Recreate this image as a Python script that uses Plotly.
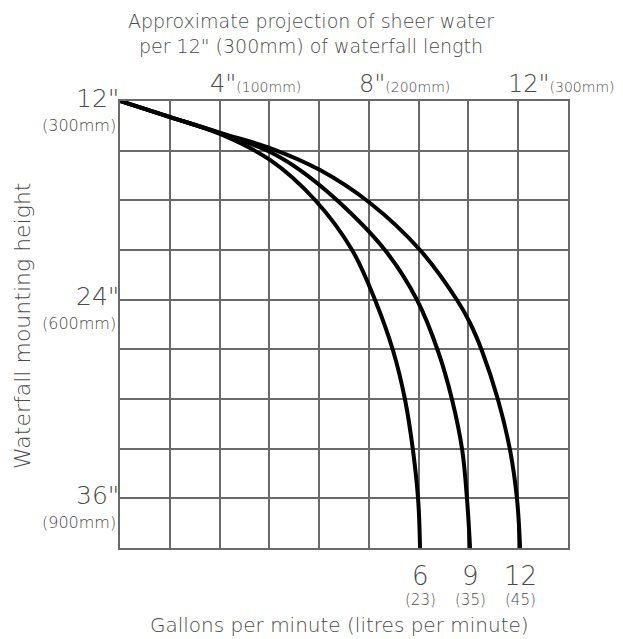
import plotly.graph_objects as go

# ---- data (inches) ----
gpm = [6, 9, 12]
lpm = [23, 35, 45]

x_6 = [1.333, 2.673, 4.012, 5.352, 6.557, 7.55, 8.165, 8.65, 8.97, 9.18, 9.32, 9.37]
y_6 = [12.0, 12.97, 13.99, 15.56, 17.98, 21.0, 24.02, 27.10, 30.06, 33.08, 36.10, 39.0]

x_9 = [1.333, 2.673, 4.012, 5.352, 6.155, 7.17, 8.43, 9.29, 9.85, 10.23, 10.50, 10.63, 10.71]
y_9 = [12.0, 12.97, 13.93, 15.08, 16.17, 18.04, 21.0, 24.02, 27.10, 30.06, 33.08, 36.10, 39.0]

x_12 = [1.333, 2.673, 4.012, 5.352, 6.691, 8.03, 9.37, 10.36, 10.71, 11.03, 11.46, 11.78, 11.97, 12.05]
y_12 = [12.0, 12.97, 13.93, 14.84, 16.17, 18.16, 21.0, 24.02, 25.41, 27.10, 30.06, 33.08, 36.10, 39.0]

x_tick_in = [4, 8, 12]
x_tick_mm = [100, 200, 300]
y_tick_in = [12, 24, 36]
y_tick_mm = [300, 600, 900]

x_range = [4 / 3, 40 / 3]
y_range = [39, 12]
x_grid = [4 / 3 * (i + 1) for i in range(10)]
y_grid = [12 + 3 * i for i in range(10)]

FONT = "DejaVu Sans"
W = 200
TXT = "#4a4a4a"
GRID = "#6a6a6a"


def f(size):
    return dict(size=size, color=TXT, family=FONT, weight=W)


fig = go.Figure()
for xs, ys in [(x_6, y_6), (x_9, y_9), (x_12, y_12)]:
    fig.add_trace(go.Scatter(x=xs, y=ys, mode="lines",
                             line=dict(color="black", width=4, shape="spline", smoothing=1.0),
                             hoverinfo="skip", showlegend=False))

ann = []
ann.append(dict(text="Approximate projection of sheer water<br>per 12\" (300mm) of waterfall length",
                x=(311 - 120) / 448, xref="paper", xanchor="center", y=1.0, yref="paper",
                yanchor="top", yshift=93, showarrow=False, font=f(19)))
for v, mm in zip(x_tick_in, x_tick_mm):
    ann.append(dict(text=f'<span style="font-size:24px">{v}"</span><span style="font-size:14px">({mm}mm)</span>',
                    x=v, xref="x", xanchor="left", xshift=-12, y=1.0, yref="paper", yanchor="bottom",
                    yshift=1, showarrow=False, font=f(14)))
for v, mm in zip(y_tick_in, y_tick_mm):
    ann.append(dict(text=f'{v}"', x=0, xref="paper", xanchor="right", xshift=1,
                    y=v, yref="y", yanchor="middle", yshift=3, showarrow=False, font=f(25)))
    ann.append(dict(text=f'({mm}mm)', x=0, xref="paper", xanchor="right", xshift=-2,
                    y=v, yref="y", yanchor="middle", yshift=-24, showarrow=False, font=f(16)))
ends = [x_6[-1], x_9[-1], x_12[-1]]
for xe, g, l in zip(ends, gpm, lpm):
    ann.append(dict(text=f'{g}', x=xe, xref="x", xanchor="center", y=0, yref="paper",
                    yanchor="top", yshift=-11, showarrow=False, font=f(26)))
    ann.append(dict(text=f'({l})', x=xe, xref="x", xanchor="center", y=0, yref="paper",
                    yanchor="top", yshift=-41, showarrow=False, font=f(15)))
ann.append(dict(text="Gallons per minute (litres per minute)", x=(339 - 120) / 448, xref="paper",
                xanchor="center", y=0, yref="paper", yanchor="middle", yshift=-77,
                showarrow=False, font=f(20)))
ann.append(dict(text="Waterfall mounting height", x=0, xref="paper", xanchor="center",
                xshift=-98, y=(548 - 326) / 447, yref="paper", yanchor="middle",
                textangle=-90, showarrow=False, font=f(22)))

fig.update_layout(
    width=615, height=631,
    margin=dict(l=112, r=55, t=93, b=91),
    paper_bgcolor="white", plot_bgcolor="white",
    annotations=ann,
    xaxis=dict(range=x_range, tickmode="array", tickvals=x_grid, showticklabels=False,
               showgrid=True, gridcolor=GRID, gridwidth=1.5, zeroline=False,
               showline=True, linecolor=GRID, linewidth=1.5, mirror=True, ticks=""),
    yaxis=dict(range=y_range, tickmode="array", tickvals=y_grid, showticklabels=False,
               showgrid=True, gridcolor=GRID, gridwidth=1.5, zeroline=False,
               showline=True, linecolor=GRID, linewidth=1.5, mirror=True, ticks=""),
)
fig.write_html("out.html")
